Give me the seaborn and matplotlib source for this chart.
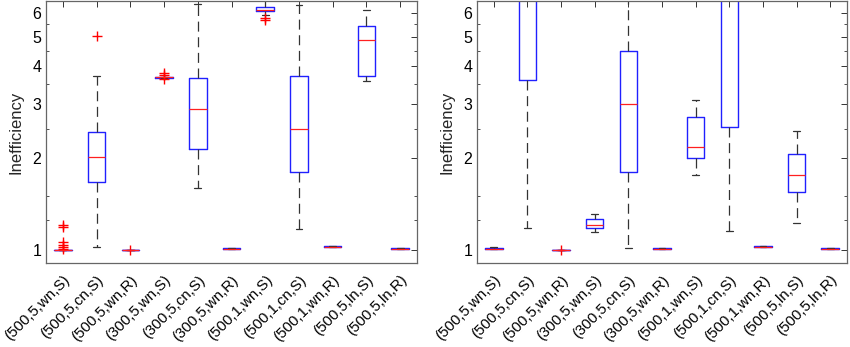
import numpy as np
import matplotlib
matplotlib.use("Agg")
import matplotlib.pyplot as plt
import seaborn as sns

sns.set_theme(style="white")
plt.rcParams['font.family'] = ['Liberation Sans', 'DejaVu Sans']

labels = ['(500,5,wn,S)', '(500,5,cn,S)', '(500,5,wn,R)', '(300,5,wn,S)',
          '(300,5,cn,S)', '(300,5,wn,R)', '(500,1,wn,S)', '(500,1,cn,S)',
          '(500,1,wn,R)', '(500,5,ln,S)', '(500,5,ln,R)']

# left panel box statistics
left_q1 = [1.0, 1.675, 1.0, 3.67, 2.14, 1.008, 6.08, 1.80, 1.022, 3.72, 1.008]
left_med = [1.0, 2.02, 1.0, 3.69, 2.89, 1.01, 6.11, 2.49, 1.025, 4.87, 1.01]
left_q3 = [1.003, 2.44, 1.002, 3.70, 3.67, 1.012, 6.25, 3.72, 1.028, 5.44, 1.012]
left_lo = [1.0, 1.025, 1.0, 3.67, 1.60, 1.008, 5.90, 1.17, 1.022, 3.59, 1.008]
left_hi = [1.003, 3.72, 1.002, 3.70, 6.41, 1.012, 6.60, 6.35, 1.028, 6.12, 1.012]
left_fliers = [[1.21, 1.19, 1.06, 1.04, 1.02, 1.01],
               [5.03],
               [1.0],
               [3.81, 3.75, 3.63],
               [], [],
               [5.75, 5.68],
               [], [], [], []]

# right panel box statistics
right_q1 = [1.005, 3.61, 1.0, 1.178, 1.806, 1.008, 2.0, 2.525, 1.022, 1.546, 1.008]
right_med = [1.01, 8.0, 1.0, 1.208, 3.00, 1.01, 2.18, 8.0, 1.025, 1.76, 1.01]
right_q3 = [1.015, 9.0, 1.002, 1.264, 4.49, 1.012, 2.72, 9.0, 1.028, 2.06, 1.012]
right_lo = [1.005, 1.178, 1.0, 1.143, 1.013, 1.008, 1.76, 1.154, 1.022, 1.223, 1.008]
right_hi = [1.02, 10.0, 1.002, 1.309, 7.0, 1.012, 3.10, 10.0, 1.028, 2.46, 1.012]
right_fliers = [[], [], [1.0], [], [], [], [], [], [], [], []]


def make_stats(q1, med, q3, lo, hi, fliers):
    stats = []
    for i in range(len(q1)):
        stats.append({'q1': q1[i], 'med': med[i], 'q3': q3[i],
                      'whislo': lo[i], 'whishi': hi[i], 'fliers': fliers[i]})
    return stats


def draw_panel(ax, stats):
    ax.bxp(stats, positions=np.arange(1, len(stats) + 1), widths=0.52,
           capwidths=0.2,
           boxprops=dict(color='#2020ff', linewidth=1.0),
           medianprops=dict(color='#ff2020', linewidth=0.9),
           whiskerprops=dict(color='#333333', linewidth=0.9, linestyle=(0, (8, 4.5))),
           capprops=dict(color='#333333', linewidth=0.9),
           flierprops=dict(marker='+', markeredgecolor='#ff0000', markersize=7,
                           markeredgewidth=1.0, linestyle='none'))
    ax.set_yscale('log')
    ax.set_ylim(0.906, 6.55)
    ax.set_xlim(0.5, len(stats) + 0.5)
    ax.set_yticks([1, 2, 3, 4, 5, 6])
    ax.set_yticklabels(['1', '2', '3', '4', '5', '6'])
    ax.set_yticks([1.25, 1.5, 2.5, 3.5, 4.5, 5.5], minor=True)
    ax.yaxis.set_minor_formatter(matplotlib.ticker.NullFormatter())
    ax.set_xticks(np.arange(1, len(stats) + 1))
    ax.set_xticklabels(labels, rotation=45, ha='right', rotation_mode='anchor',
                       fontsize=10.8)
    ax.tick_params(axis='both', which='both', direction='in', top=True,
                   right=True, colors='#333333', labelcolor='black')
    ax.tick_params(axis='both', which='major', length=4, width=0.7)
    ax.tick_params(axis='x', pad=7)
    ax.tick_params(axis='y', which='minor', length=2.5, width=0.6, left=True, right=True)
    ax.tick_params(axis='y', labelsize=11.5)
    ax.set_ylabel('Inefficiency', fontsize=12, labelpad=6)
    for sp in ax.spines.values():
        sp.set_color('#666666')
        sp.set_linewidth(0.9)


fig = plt.figure(figsize=(8.5, 3.47), dpi=100)
ax1 = fig.add_axes([46 / 850, 84 / 347, 371 / 850, 262 / 347])
ax2 = fig.add_axes([477 / 850, 84 / 347, 370 / 850, 262 / 347])

draw_panel(ax1, make_stats(left_q1, left_med, left_q3, left_lo, left_hi, left_fliers))
draw_panel(ax2, make_stats(right_q1, right_med, right_q3, right_lo, right_hi, right_fliers))

fig.savefig('out.png', dpi=100)
